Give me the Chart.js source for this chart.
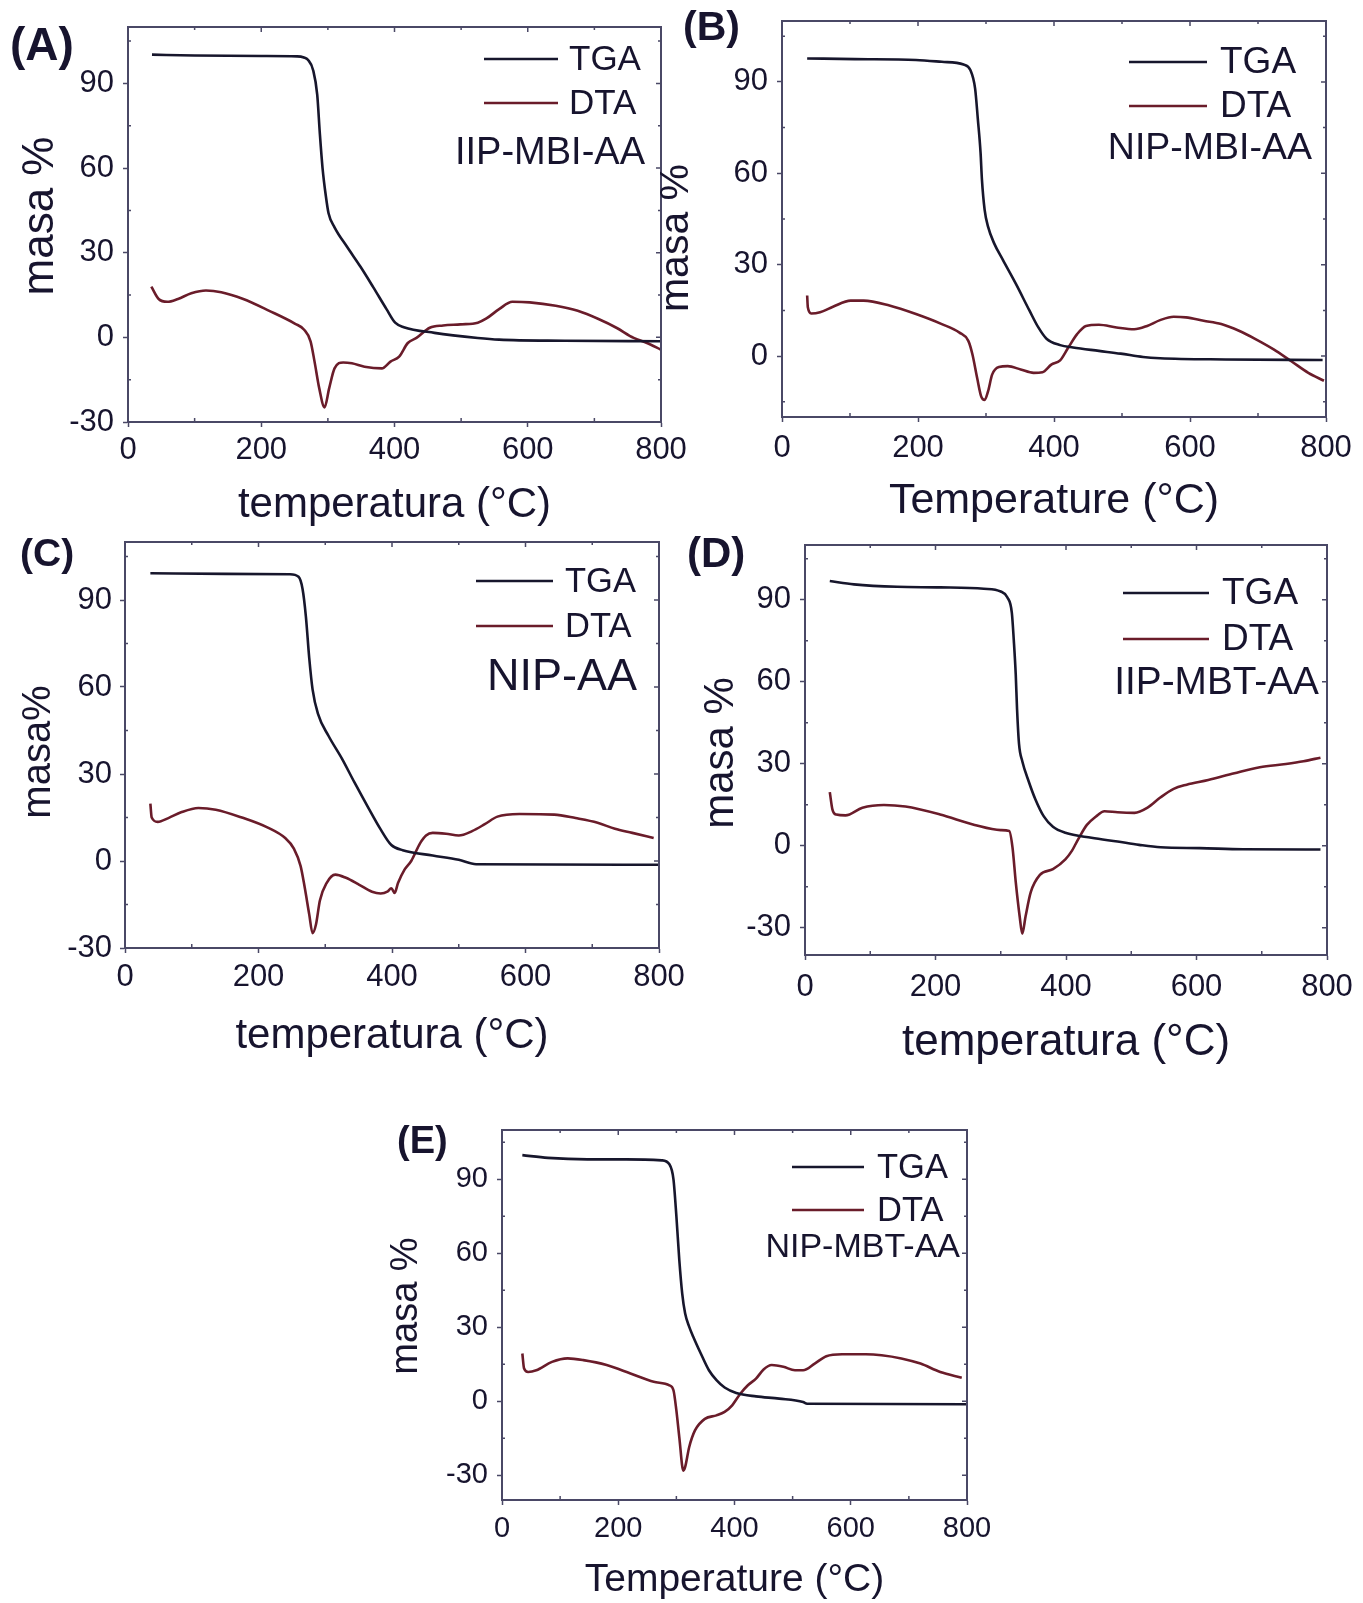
<!DOCTYPE html>
<html>
<head>
<meta charset="utf-8">
<script src="https://cdn.jsdelivr.net/npm/chart.js@4.4.1/dist/chart.umd.min.js"></script>
<style>
  html, body { margin: 0; padding: 0; background: #ffffff; }
  body { position: relative; width: 1363px; height: 1603px; overflow: hidden; }
  canvas { position: absolute; }
</style>
</head>
<body>
<script>
// ---- axis ticks ----
const xTicks = [0, 200, 400, 600, 800];
const xMinor = [100, 300, 500, 700];
const yTicksFull = [-30, 0, 30, 60, 90];
const yTicksShort = [0, 30, 60, 90];
const yMinor = [-15, 15, 45, 75, 105];

// ---- (A) IIP-MBI-AA ----
const tgaA_T = [36, 100, 200, 254, 264, 270, 278, 284, 288, 292, 297, 301, 310, 329, 349, 368, 388, 401, 414, 460, 525, 557, 655, 800];
const tgaA_M = [100.2, 99.9, 99.7, 99.6, 99.2, 98.4, 94.6, 86, 72, 60, 50, 44, 39, 32, 25, 17.8, 10, 5.2, 3.6, 1.6, -0.2, -0.8, -1.2, -1.4];
const dtaA_T = [35, 46, 59, 75, 95, 117, 140, 173, 212, 251, 264, 274, 280, 287, 295, 302, 310, 323, 336, 355, 381, 394, 407, 420, 433, 453, 473, 499, 525, 538, 557, 577, 603, 642, 675, 707, 733, 759, 779, 800];
const dtaA_M = [18, 13.6, 12.6, 13.6, 15.6, 16.6, 16, 13.6, 9.4, 4.8, 2.8, -1.4, -8.6, -18, -24.8, -18, -11, -8.9, -9.2, -10.4, -11, -8.6, -6.8, -2, -0.2, 3.4, 4.2, 4.6, 5.2, 6.7, 10, 12.6, 12.4, 11.2, 9.4, 6.4, 3.4, -0.2, -2, -4.4];

// ---- (B) NIP-MBI-AA ----
const tgaB_T = [37, 107, 197, 235, 267, 277, 284, 288, 292, 294, 298, 303, 312, 325, 344, 364, 377, 389, 409, 428, 466, 498, 531, 556, 652, 795];
const tgaB_M = [97.7, 97.5, 97.2, 96.6, 95.7, 93.9, 87.8, 77.8, 66.8, 58, 48, 42.5, 37, 31.5, 23.7, 14.9, 9.4, 5.7, 3.6, 2.8, 1.7, 0.8, -0.3, -0.7, -1.1, -1.3];
const dtaB_T = [37, 38, 43, 56, 75, 101, 120, 158, 197, 235, 261, 274, 280, 287, 293, 298, 303, 309, 319, 332, 351, 370, 383, 396, 409, 421, 434, 447, 466, 492, 518, 537, 556, 576, 594, 620, 646, 672, 697, 723, 749, 774, 797];
const dtaB_M = [19.9, 16, 14, 14.4, 16.2, 18.2, 18.2, 16.6, 13.8, 10.5, 7.7, 5, 0.6, -7.2, -13.3, -14.4, -11.6, -6.1, -3.6, -3.3, -4.4, -5.5, -5.3, -2.8, -1.4, 2.8, 7.2, 9.9, 10.3, 9.4, 8.8, 9.9, 11.8, 12.9, 12.7, 11.6, 10.5, 8.3, 5.5, 2.2, -1.7, -5.5, -8.1];

// ---- (C) NIP-AA ----
const tgaC_T = [38, 150, 247, 260, 266, 271, 276, 281, 289, 305, 325, 344, 364, 383, 399, 416, 461, 500, 526, 800];
const tgaC_M = [99.2, 99.0, 98.9, 98, 93.8, 84.3, 70, 59.2, 50.8, 43.1, 35.3, 27, 18.6, 10.9, 5.5, 3.7, 1.9, 0.4, -1.1, -1.3];
const dtaC_T = [38, 40, 49, 65, 84, 110, 136, 175, 214, 240, 253, 263, 269, 276, 281, 286, 292, 302, 315, 331, 351, 370, 383, 393, 399, 404, 409, 419, 429, 442, 451, 461, 481, 500, 520, 539, 558, 591, 643, 675, 708, 734, 760, 792];
const dtaC_M = [19.8, 15, 13.5, 14.8, 16.8, 18.3, 17.7, 15, 11.5, 7.9, 4.3, -1.7, -8.8, -18.4, -24.9, -22, -13.6, -7.6, -4.7, -5.8, -8.2, -10.6, -11.2, -10.6, -9.4, -11, -7.6, -2.9, 0.1, 6.1, 8.8, 9.7, 9.4, 8.8, 10.3, 12.7, 15.3, 16.2, 16, 14.8, 13.2, 11.1, 9.7, 7.9];

// ---- (D) IIP-MBT-AA ----
const tgaD_T = [38, 75, 141, 207, 274, 300, 310, 317, 320, 323, 325, 328, 333, 343, 353, 366, 380, 399, 439, 479, 512, 545, 605, 671, 790];
const tgaD_M = [96.8, 95.6, 94.7, 94.5, 94, 93, 90.9, 85.2, 75.1, 62.5, 49.9, 37.2, 30.9, 23.4, 17, 10.7, 6.9, 4.7, 2.9, 1.5, 0.3, -0.6, -0.9, -1.3, -1.4];
const dtaD_T = [38, 42, 48, 62, 88, 121, 154, 207, 260, 300, 313, 318, 323, 329, 333, 338, 346, 360, 380, 399, 409, 419, 432, 446, 459, 479, 505, 525, 545, 565, 585, 618, 658, 697, 737, 764, 790];
const dtaD_M = [19.6, 13.3, 11.4, 11.1, 13.9, 14.9, 14.3, 11.4, 7.6, 5.7, 5.4, -0.6, -13.3, -25.9, -32.2, -25.9, -17, -10.7, -8.6, -5, -1.9, 2.5, 7.6, 10.7, 12.6, 12.2, 12, 13.9, 17.7, 20.8, 22.3, 24, 26.5, 28.7, 29.9, 30.9, 32.2];

// ---- (E) NIP-MBT-AA ----
const tgaE_T = [35, 79, 147, 214, 275, 288, 295, 300, 305, 310, 315, 322, 329, 342, 356, 369, 383, 403, 437, 477, 518, 525, 800];
const tgaE_M = [99.8, 98.7, 98.1, 98.1, 97.7, 96.1, 90, 75.1, 57.4, 43.8, 35.7, 30.3, 26.2, 19.4, 12.6, 8.6, 5.6, 3.4, 2, 1.1, -0.3, -1, -1.2];
const dtaE_T = [35, 38, 45, 59, 86, 113, 140, 180, 221, 261, 288, 295, 300, 305, 312, 315, 322, 332, 349, 369, 383, 396, 410, 423, 437, 450, 464, 484, 504, 518, 538, 558, 585, 626, 653, 687, 720, 754, 791];
const dtaE_M = [19.4, 13.3, 11.9, 12.6, 16, 17.4, 16.7, 14.7, 11.3, 7.9, 6.5, 4.5, -3.7, -14.5, -28.1, -26.7, -18.6, -11.8, -7.1, -5.7, -4.3, -1.6, 3.1, 6.5, 9.2, 12.9, 14.7, 14, 12.6, 12.6, 15.3, 18.3, 19.1, 19.1, 18.7, 17.4, 15.3, 11.9, 9.6];

// ---- styling ----
const FRAME = '#4a4866';
const INK = '#17142e';
const TGA_COLOR = '#17162c';
const DTA_COLOR = '#6a1c2a';
const FAMILY = "'Liberation Sans', Arial, Helvetica, sans-serif";
const NARROW = "'Liberation Sans Narrow', 'Arial Narrow', 'Liberation Sans', Arial, sans-serif";

// Panel definitions: texts + data, then page geometry.
const panels = [
  { letter: '(A)', sample: 'IIP-MBI-AA', xTitle: 'temperatura (°C)', yTitle: 'masa %',
    yMin: -30, yMax: 110, yTicks: yTicksFull,
    tga: [tgaA_T, tgaA_M], dta: [dtaA_T, dtaA_M],
    geo: { cv: {x: 0, y: -5, w: 705, h: 535}, plot: {l: 128, t: 27, r: 661, b: 422},
      tick: 31, xTickPad: 8, yTickPad: 9, xTitleSize: 42, xTitleY: 505,
      yTitle: {size: 44, x: 41, y: 216},
      letter: {size: 46, x: 10, y: 47},
      legend: {x0: 484, x1: 558, tx: 569, y1: 59, y2: 103, size: 35},
      sample: {size: 38, right: 645, y: 153} } },
  { letter: '(B)', sample: 'NIP-MBI-AA', xTitle: 'Temperature (°C)', yTitle: 'masa %',
    yMin: -20, yMax: 110, yTicks: yTicksShort,
    tga: [tgaB_T, tgaB_M], dta: [dtaB_T, dtaB_M],
    geo: { cv: {x: 650, y: -12, w: 725, h: 542}, plot: {l: 782, t: 21, r: 1326, b: 417},
      tick: 31, xTickPad: 11, yTickPad: 9, xTitleSize: 43, xTitleY: 501,
      yTitle: {size: 41, x: 677, y: 238},
      letter: {size: 41, x: 683, y: 29},
      legend: {x0: 1129, x1: 1207, tx: 1220, y1: 62, y2: 106, size: 37},
      sample: {size: 37.5, right: 1312, y: 148} } },
  { letter: '(C)', sample: 'NIP-AA', xTitle: 'temperatura (°C)', yTitle: 'masa%',
    yMin: -30, yMax: 110, yTicks: yTicksFull,
    tga: [tgaC_T, tgaC_M], dta: [dtaC_T, dtaC_M],
    geo: { cv: {x: 0, y: 510, w: 700, h: 560}, plot: {l: 125, t: 542, r: 659, b: 948},
      tick: 31, xTickPad: 9, yTickPad: 8, xTitleSize: 42, xTitleY: 1036,
      yTitle: {size: 40, x: 39, y: 752},
      letter: {size: 39, x: 20, y: 555},
      legend: {x0: 476, x1: 553, tx: 565, y1: 581, y2: 626, size: 34.5},
      sample: {size: 45, right: 637, y: 677} } },
  { letter: '(D)', sample: 'IIP-MBT-AA', xTitle: 'temperatura (°C)', yTitle: 'masa %',
    yMin: -40, yMax: 110, yTicks: yTicksFull,
    tga: [tgaD_T, tgaD_M], dta: [dtaD_T, dtaD_M],
    geo: { cv: {x: 680, y: 510, w: 695, h: 565}, plot: {l: 805, t: 545, r: 1327, b: 955},
      tick: 31, xTickPad: 12, yTickPad: 9, xTitleSize: 44, xTitleY: 1043,
      yTitle: {size: 42, x: 721, y: 753},
      letter: {size: 42, x: 687, y: 555},
      legend: {x0: 1123, x1: 1209, tx: 1222, y1: 593, y2: 639, size: 37},
      sample: {size: 38.8, right: 1319, y: 682} } },
  { letter: '(E)', sample: 'NIP-MBT-AA', xTitle: 'Temperature (°C)', yTitle: 'masa %',
    yMin: -40, yMax: 110, yTicks: yTicksFull,
    tga: [tgaE_T, tgaE_M], dta: [dtaE_T, dtaE_M],
    geo: { cv: {x: 370, y: 1090, w: 640, h: 513}, plot: {l: 502, t: 1130, r: 967, b: 1500},
      tick: 29, xTickPad: 9.5, yTickPad: 9, xTitleSize: 39, xTitleY: 1580,
      yTitle: {size: 38, x: 407, y: 1306},
      letter: {size: 38, x: 397, y: 1143},
      legend: {x0: 792, x1: 864, tx: 877, y1: 1167, y2: 1210, size: 34.5},
      sample: {size: 34, right: 960, y: 1247} } }
];

const toPoints = (T, M) => T.map((t, i) => ({x: t, y: M[i]}));

// Closes the frame (top and right edges) and adds the small inward ticks.
const framePlugin = {
  id: 'frameTicks',
  afterDatasetsDraw(chart) {
    const {ctx, chartArea: a, scales: {x, y}} = chart;
    ctx.save();
    ctx.strokeStyle = FRAME;
    ctx.lineWidth = 2;
    ctx.beginPath();
    ctx.moveTo(a.left, a.top);
    ctx.lineTo(a.right, a.top);
    ctx.lineTo(a.right, a.bottom);
    ctx.stroke();
    ctx.lineWidth = 1.5;
    ctx.beginPath();
    const inX = (v, len) => {
      const px = x.getPixelForValue(v);
      ctx.moveTo(px, a.top); ctx.lineTo(px, a.top + len);
    };
    xTicks.forEach(v => { if (v > x.min && v < x.max) inX(v, 5); });
    xMinor.forEach(v => {
      inX(v, 3);
      const px = x.getPixelForValue(v);
      ctx.moveTo(px, a.bottom); ctx.lineTo(px, a.bottom - 4);
    });
    y.ticks.forEach(t => {
      const py = y.getPixelForValue(t.value);
      ctx.moveTo(a.right, py); ctx.lineTo(a.right - 5, py);
    });
    yMinor.forEach(v => {
      if (v <= y.min || v >= y.max) return;
      const py = y.getPixelForValue(v);
      ctx.moveTo(a.right, py); ctx.lineTo(a.right - 3, py);
      ctx.moveTo(a.left, py); ctx.lineTo(a.left + 3, py);
    });
    ctx.stroke();
    ctx.restore();
  }
};

// Panel letter, rotated y title, line legend and sample name.
const decoPlugin = {
  id: 'panelDeco',
  afterDraw(chart, args, o) {
    const {ctx} = chart;
    const ox = o.cv.x, oy = o.cv.y;
    ctx.save();
    ctx.fillStyle = INK;
    ctx.textBaseline = 'middle';

    // y-axis title
    ctx.save();
    ctx.translate(o.yTitle.x - ox, o.yTitle.y - oy);
    ctx.rotate(-Math.PI / 2);
    ctx.textAlign = 'center';
    ctx.font = `${o.yTitle.size}px ${FAMILY}`;
    ctx.fillText(o.yTitleText, 0, 0);
    ctx.restore();

    ctx.textAlign = 'left';
    ctx.font = `bold ${o.letter.size}px ${FAMILY}`;
    ctx.fillText(o.letterText, o.letter.x - ox, o.letter.y - oy);

    const L = o.legend;
    [[TGA_COLOR, 'TGA', L.y1], [DTA_COLOR, 'DTA', L.y2]].forEach(([c, label, yy]) => {
      ctx.strokeStyle = c;
      ctx.lineWidth = 2.6;
      ctx.beginPath();
      ctx.moveTo(L.x0 - ox, yy - oy);
      ctx.lineTo(L.x1 - ox, yy - oy);
      ctx.stroke();
      ctx.font = `${L.size}px ${FAMILY}`;
      ctx.fillText(label, L.tx - ox, yy - oy + 1);
    });

    ctx.textAlign = 'right';
    ctx.font = `${o.sample.size}px ${FAMILY}`;
    ctx.fillText(o.sampleText, o.sample.right - ox, o.sample.y - oy + 1);
    ctx.restore();
  }
};

panels.forEach(p => {
  const g = p.geo;
  const canvas = document.createElement('canvas');
  canvas.width = g.cv.w;
  canvas.height = g.cv.h;
  canvas.style.left = g.cv.x + 'px';
  canvas.style.top = g.cv.y + 'px';
  canvas.style.width = g.cv.w + 'px';
  canvas.style.height = g.cv.h + 'px';
  document.body.appendChild(canvas);

  const padL = g.plot.l - g.cv.x;
  const padT = g.plot.t - g.cv.y;
  const padR = g.cv.x + g.cv.w - g.plot.r;
  const padB = g.cv.y + g.cv.h - g.plot.b;

  new Chart(canvas, {
    type: 'line',
    data: {
      datasets: [
        { label: 'TGA', data: toPoints(p.tga[0], p.tga[1]), borderColor: TGA_COLOR },
        { label: 'DTA', data: toPoints(p.dta[0], p.dta[1]), borderColor: DTA_COLOR }
      ]
    },
    options: {
      responsive: false,
      animation: false,
      devicePixelRatio: 1,
      parsing: false,
      layout: { padding: { left: 0, top: padT, right: padR, bottom: 0 } },
      elements: {
        point: { radius: 0 },
        line: { borderWidth: 2.6, cubicInterpolationMode: 'monotone', fill: false }
      },
      plugins: {
        legend: { display: false },
        tooltip: { enabled: false },
        panelDeco: Object.assign({ letterText: p.letter, sampleText: p.sample, yTitleText: p.yTitle }, g)
      },
      scales: {
        x: {
          type: 'linear', min: 0, max: 800,
          afterBuildTicks: s => { s.ticks = xTicks.map(v => ({value: v})); },
          afterFit: s => { s.height = padB; },
          grid: { drawOnChartArea: false, color: FRAME, tickLength: 5, tickWidth: 1.5 },
          border: { color: FRAME, width: 2 },
          ticks: { color: INK, padding: g.xTickPad, maxRotation: 0, autoSkip: false,
                   font: { family: NARROW, size: g.tick, lineHeight: 1 } },
          title: { display: true, text: p.xTitle, color: INK,
                   font: { family: FAMILY, size: g.xTitleSize, lineHeight: 1 },
                   padding: { top: 0, bottom: g.cv.y + g.cv.h - g.xTitleY - g.xTitleSize / 2 } }
        },
        y: {
          type: 'linear', min: p.yMin, max: p.yMax,
          afterBuildTicks: s => { s.ticks = p.yTicks.map(v => ({value: v})); },
          afterFit: s => { s.width = padL; },
          grid: { drawOnChartArea: false, color: FRAME, tickLength: 5, tickWidth: 1.5 },
          border: { color: FRAME, width: 2 },
          ticks: { color: INK, padding: g.yTickPad, autoSkip: false,
                   font: { family: NARROW, size: g.tick, lineHeight: 1 } },
          title: { display: false }
        }
      }
    },
    plugins: [framePlugin, decoPlugin]
  });
});
</script>
</body>
</html>
